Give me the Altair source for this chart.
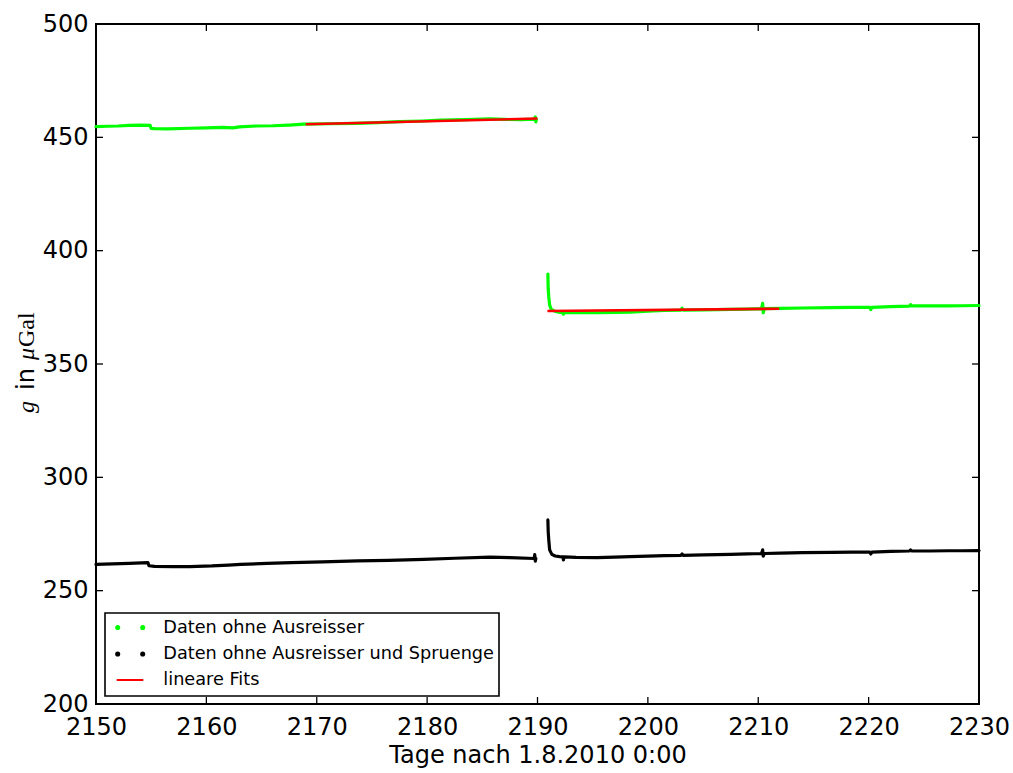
import altair as alt
import pandas as pd

# Gravity record (µGal) against days since 1.8.2010 0:00
green_x1 = [2150.0, 2151.0, 2152.0, 2153.0, 2154.0, 2154.9, 2155.0, 2155.3, 2156.5, 2158.5,
            2160.0, 2161.5, 2162.4, 2163.0, 2164.5, 2166.0, 2167.5, 2168.8, 2171.0, 2173.6,
            2175.5, 2177.5, 2179.6, 2181.2, 2183.5, 2185.7, 2187.0, 2188.5, 2189.7, 2189.8,
            2189.85, 2189.9]
green_y1 = [454.7, 454.9, 455.0, 455.3, 455.4, 455.3, 453.9, 453.8, 453.7, 454.0,
            454.2, 454.4, 454.2, 454.6, 455.0, 455.1, 455.4, 455.8, 456.0, 456.2,
            456.5, 456.9, 457.2, 457.6, 457.8, 458.1, 457.9, 457.8, 458.0, 459.0,
            456.8, 458.0]

green_x2 = [2190.94, 2190.97, 2191.02, 2191.1, 2191.25, 2191.5, 2191.9, 2192.3, 2192.35, 2192.4,
            2193.5, 2195.4, 2197.0, 2198.4, 2200.0, 2201.5, 2203.0, 2203.1, 2203.2, 2205.0,
            2207.5, 2209.0, 2210.3, 2210.4, 2210.45, 2210.55, 2212.0, 2214.0, 2216.6, 2218.5,
            2220.1, 2220.2, 2220.3, 2222.0, 2223.7, 2223.8, 2223.9, 2225.5, 2227.2, 2228.5,
            2230.0]
green_y2 = [389.7, 383.0, 379.7, 376.0, 374.1, 373.4, 372.9, 372.7, 372.0, 372.7,
            372.6, 372.6, 372.8, 372.9, 373.3, 373.6, 373.8, 374.6, 373.8, 373.9,
            374.1, 374.2, 374.4, 376.8, 372.6, 374.4, 374.5, 374.7, 374.9, 375.0,
            375.0, 374.0, 375.0, 375.3, 375.5, 376.2, 375.6, 375.6, 375.6, 375.7,
            375.8]

black_x1 = [2150.0, 2151.5, 2153.0, 2154.7, 2154.8, 2155.3, 2157.0, 2158.5, 2160.5, 2162.0,
            2163.1, 2165.5, 2167.7, 2170.5, 2173.7, 2176.5, 2179.7, 2182.5, 2185.7, 2187.5,
            2189.7, 2189.75, 2189.8, 2189.85]
black_y1 = [261.6, 261.8, 262.0, 262.4, 261.0, 260.7, 260.6, 260.6, 260.9, 261.3,
            261.6, 262.0, 262.4, 262.7, 263.1, 263.4, 263.8, 264.3, 264.8, 264.6,
            264.2, 265.9, 263.0, 264.2]

black_x2 = [2190.94, 2190.97, 2191.02, 2191.1, 2191.3, 2191.6, 2192.0, 2192.3, 2192.35, 2192.4,
            2193.5, 2195.4, 2197.0, 2198.4, 2200.0, 2201.5, 2203.0, 2203.1, 2203.2, 2205.0,
            2207.5, 2209.0, 2210.3, 2210.4, 2210.45, 2210.55, 2212.0, 2214.0, 2216.6, 2218.5,
            2220.1, 2220.2, 2220.3, 2222.0, 2223.7, 2223.8, 2223.9, 2225.5, 2227.2, 2228.5,
            2230.0]
black_y2 = [281.2, 276.0, 272.4, 268.0, 266.0, 265.3, 265.0, 264.9, 263.6, 264.9,
            264.7, 264.6, 264.8, 265.0, 265.2, 265.5, 265.6, 266.2, 265.6, 265.8,
            266.0, 266.2, 266.4, 268.0, 265.2, 266.4, 266.6, 266.8, 266.9, 267.0,
            267.0, 266.2, 267.0, 267.3, 267.5, 268.0, 267.5, 267.5, 267.6, 267.6,
            267.7]

# Linear fits (start and end points)
fit_x1 = [2169.0, 2190.0]
fit_y1 = [455.8, 458.3]
fit_x2 = [2190.9, 2211.9]
fit_y2 = [373.4, 374.4]

x_ticks = [2150, 2160, 2170, 2180, 2190, 2200, 2210, 2220, 2230]
y_ticks = [200, 250, 300, 350, 400, 450, 500]

legend_labels = ["Daten ohne Ausreisser", "Daten ohne Ausreisser und Spruenge", "lineare Fits"]
colors = ["#00ff00", "#000000", "#ff0000"]

W, H = 883, 680
TICK = 7


def segment(xs, ys, series, seg):
    return pd.DataFrame({"x": xs, "y": ys, "series": series, "seg": seg, "i": range(len(xs))})


data = pd.concat([
    segment(green_x1, green_y1, "green", "g1"),
    segment(green_x2, green_y2, "green", "g2"),
    segment(black_x1, black_y1, "black", "b1"),
    segment(black_x2, black_y2, "black", "b2"),
])
fits = pd.concat([
    segment(fit_x1, fit_y1, "fit", "f1"),
    segment(fit_x2, fit_y2, "fit", "f2"),
])

xscale = alt.Scale(domain=[2150, 2230], nice=False, zero=False)
yscale = alt.Scale(domain=[200, 500], nice=False, zero=False)

x_enc = alt.X("x:Q", scale=xscale, axis=alt.Axis(
    values=x_ticks, format="d", title="Tage nach 1.8.2010 0:00", labelPadding=11,
    titleY=58, titleX=W / 2, titleBaseline="alphabetic", titleAnchor="middle"))
y_enc = alt.Y("y:Q", scale=yscale, axis=alt.Axis(values=y_ticks, format="d", title=None,
                                                labelPadding=8))

series = alt.Chart(data).mark_line(strokeWidth=3.2, strokeCap="round", strokeJoin="round").encode(
    x=x_enc, y=y_enc,
    color=alt.Color("series:N", scale=alt.Scale(domain=["green", "black"],
                                                range=["#00ff00", "#000000"]), legend=None),
    detail="seg:N", order="i:Q")

fit_lines = alt.Chart(fits).mark_line(strokeWidth=2.6, color="#ff0000").encode(
    x=alt.X("x:Q", scale=xscale), y=alt.Y("y:Q", scale=yscale), detail="seg:N", order="i:Q")

# inward tick marks on all four sides
xt = pd.DataFrame({"x": x_ticks})
yt = pd.DataFrame({"y": y_ticks})
tick_style = dict(color="black", strokeWidth=1.3)
ticks = alt.layer(
    alt.Chart(xt).mark_rule(**tick_style).encode(x=alt.X("x:Q", scale=xscale), y=alt.value(H), y2=alt.value(H - TICK)),
    alt.Chart(xt).mark_rule(**tick_style).encode(x=alt.X("x:Q", scale=xscale), y=alt.value(0), y2=alt.value(TICK)),
    alt.Chart(yt).mark_rule(**tick_style).encode(y=alt.Y("y:Q", scale=yscale), x=alt.value(0), x2=alt.value(TICK)),
    alt.Chart(yt).mark_rule(**tick_style).encode(y=alt.Y("y:Q", scale=yscale), x=alt.value(W - TICK), x2=alt.value(W)),
)

# legend box
one = pd.DataFrame({"k": [0]})
LX0, LX1, LY0, LY1 = 9, 403, 589, 672
rows_y = [603.5, 630.0, 656.0]
legend = [alt.Chart(one).mark_rect(fill="white", stroke="black", strokeWidth=1.6).encode(
    x=alt.value(LX0), x2=alt.value(LX1), y=alt.value(LY0), y2=alt.value(LY1))]
for k in range(2):
    for px in (21.7, 46.7):
        legend.append(alt.Chart(one).mark_circle(size=26, color=colors[k], opacity=1).encode(
            x=alt.value(px), y=alt.value(rows_y[k])))
legend.append(alt.Chart(one).mark_rule(color=colors[2], strokeWidth=2).encode(
    x=alt.value(20.7), x2=alt.value(47.3), y=alt.value(rows_y[2])))
for k, lab in enumerate(legend_labels):
    legend.append(alt.Chart(one).mark_text(text=lab, font="DejaVu Sans", fontSize=17.7,
                                           align="left", baseline="middle", color="black").encode(
        x=alt.value(67.3), y=alt.value(rows_y[k])))

# y-axis title: g in µGal (math parts in serif), set piece by piece reading upwards
ylab_parts = [("g", "Liberation Serif", "italic", 389.0),
              ("in", "DejaVu Sans", "normal", 366.0),
              ("μ", "Liberation Serif", "italic", 336.0),
              ("Gal", "Liberation Serif", "normal", 323.0)]
ylab = []
for txt, fnt, style, start in ylab_parts:
    ylab.append(alt.Chart(one).mark_text(text=txt, font=fnt, fontStyle=style, fontSize=24,
                                         angle=270, align="left", baseline="alphabetic",
                                         color="black").encode(
        x=alt.value(-62), y=alt.value(start)))

chart = alt.layer(series, fit_lines, ticks, *legend, *ylab).properties(
    width=W, height=H,
    autosize=alt.AutoSizeParams(type="none"),
    padding={"left": 96, "top": 24, "right": 34, "bottom": 69},
    background="white",
).configure_view(stroke="black", strokeWidth=2).configure_axis(
    labelFont="DejaVu Sans", labelFontSize=24, labelColor="black", ticks=False, domain=False,
    grid=False, labelFlush=False, titleFont="DejaVu Sans", titleFontSize=24,
    titleFontWeight="normal", titleColor="black")

chart.save("out.html", embed_options={"renderer": "svg", "actions": False})
